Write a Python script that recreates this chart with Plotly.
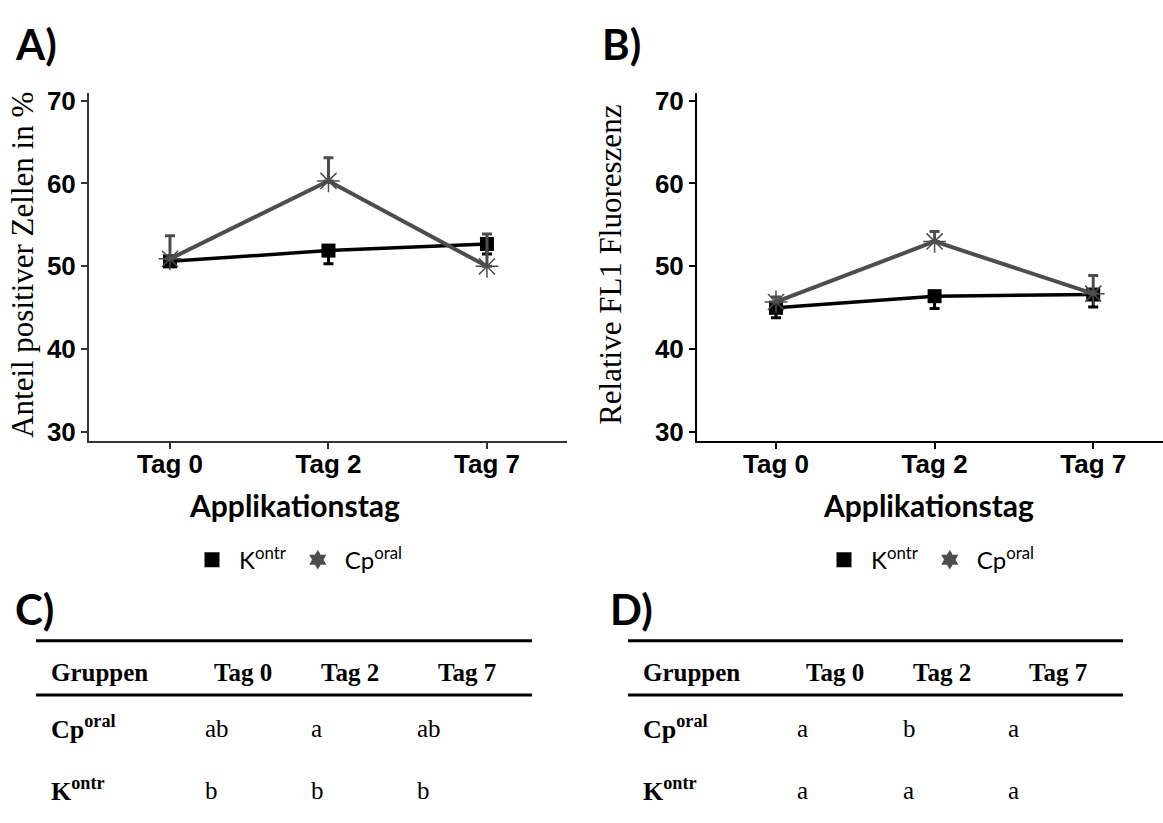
import plotly.graph_objects as go

# ---------------- data ----------------
days = ["Tag 0", "Tag 2", "Tag 7"]

a_kontr = [50.6, 51.9, 52.7]
a_kontr_err = [0.5, 1.6, 1.2]      # drawn downward
a_cp = [50.9, 60.3, 50.0]
a_cp_err = [2.8, 2.8, 3.9]         # drawn upward

b_kontr = [45.0, 46.4, 46.6]
b_kontr_err = [1.2, 1.5, 1.5]
b_cp = [45.7, 53.0, 46.7]
b_cp_err = [0.6, 1.2, 2.2]

yticks = [30, 40, 50, 60, 70]

table_header = ["Gruppen", "Tag 0", "Tag 2", "Tag 7"]
row_labels = ["<b>Cp<sup>oral</sup></b>", "<b>K<sup>ontr</sup></b>"]
c_cp = ["ab", "a", "ab"]
c_kontr = ["b", "b", "b"]
d_cp = ["a", "b", "a"]
d_kontr = ["a", "a", "a"]

W, H = 1163, 823
BLACK = "#000000"
GREY = "#4d4d4d"

def px(x):
    return x / W

def py(y):
    return 1 - y / H

fig = go.Figure()

def add_panel(xa, ya, kontr, kerr, cp, cerr, legend):
    fig.add_trace(go.Scatter(
        x=days, y=kontr, xaxis=xa, yaxis=ya, mode="lines+markers",
        line=dict(color=BLACK, width=3.5),
        marker=dict(symbol="square", size=14, color=BLACK),
        error_y=dict(type="data", symmetric=False, array=[0] * len(kerr), arrayminus=kerr,
                     color=BLACK, thickness=3, width=5),
        showlegend=False, cliponaxis=False))
    fig.add_trace(go.Scatter(
        x=days, y=cp, xaxis=xa, yaxis=ya, mode="lines+markers",
        line=dict(color=GREY, width=4),
        marker=dict(symbol="asterisk", size=19, color=GREY, line=dict(color=GREY, width=1.5)),
        error_y=dict(type="data", symmetric=False, array=cerr, arrayminus=[0] * len(cerr),
                     color=GREY, thickness=3, width=5),
        showlegend=False, cliponaxis=False))
    # legend entries
    fig.add_trace(go.Scatter(x=[None], y=[None], xaxis=xa, yaxis=ya, mode="markers",
                             marker=dict(symbol="square", size=15, color=BLACK),
                             name="K<sup>ontr</sup>", legend=legend))
    fig.add_trace(go.Scatter(x=[None], y=[None], xaxis=xa, yaxis=ya, mode="markers",
                             marker=dict(symbol="hexagram", size=15, color=GREY),
                             name="Cp<sup>oral</sup>", legend=legend))

add_panel("x", "y", a_kontr, a_kontr_err, a_cp, a_cp_err, "legend")
add_panel("x2", "y2", b_kontr, b_kontr_err, b_cp, b_cp_err, "legend2")

tickfont = dict(family="Liberation Sans", size=26, color=BLACK)

def xaxis(domain, rng, col, anchor):
    return dict(domain=domain, range=rng, type="category", showgrid=False, zeroline=False,
                anchor=anchor, showline=True, linecolor=col, linewidth=2, ticks="outside",
                ticklen=6, tickwidth=1.5, tickcolor=col, tickfont=tickfont,
                ticklabelstandoff=-7,
                tickvals=days, ticktext=["<b>%s</b>" % d for d in days],
                categoryorder="array", categoryarray=days, fixedrange=True)

def yaxis(domain, rng, col, anchor):
    return dict(domain=domain, range=rng, showgrid=False, zeroline=False, anchor=anchor,
                showline=True, linecolor=col, linewidth=2, ticks="outside", ticklen=6,
                tickwidth=1.5, tickcolor=col, tickvals=yticks,
                ticktext=["<b>%d</b>" % v for v in yticks], tickfont=tickfont,
                fixedrange=True)

ydom = [py(441), py(87)]
yr = [28.93, 70.95]

legfont = dict(family="Lato", size=24, color=BLACK)
fig.update_layout(
    width=W, height=H, margin=dict(l=0, r=0, t=0, b=0),
    paper_bgcolor="white", plot_bgcolor="white",
    xaxis=xaxis([px(89), px(567)], [-0.511, 2.505], "#333333", "y"),
    yaxis=yaxis(ydom, yr, "#333333", "x"),
    xaxis2=xaxis([px(697), 1.0], [-0.498, 2.44], BLACK, "y2"),
    yaxis2=yaxis(ydom, yr, BLACK, "x2"),
    legend=dict(orientation="h", x=px(185), y=py(562), xanchor="left", yanchor="middle",
                font=legfont, itemwidth=44, bgcolor="rgba(0,0,0,0)"),
    legend2=dict(orientation="h", x=px(817), y=py(562), xanchor="left", yanchor="middle",
                 font=legfont, itemwidth=44, bgcolor="rgba(0,0,0,0)"),
)

ann = []
def text(x, y, s, size, family, xanchor="center", angle=0):
    ann.append(dict(x=px(x), y=py(y), xref="paper", yref="paper", text=s, showarrow=False,
                    xanchor=xanchor, yanchor="middle", textangle=angle,
                    font=dict(family=family, size=size, color=BLACK)))

# panel labels
text(13, 38, "<b>A)</b>", 42, "Lato", "left")
text(600, 38, "<b>B)</b>", 42, "Lato", "left")
text(13, 612, "<b>C)</b>", 42, "Lato", "left")
text(608, 612, "<b>D)</b>", 42, "Lato", "left")

# axis titles
text(294, 506, "<b>Applikationstag</b>", 30, "Lato")
text(928, 506, "<b>Applikationstag</b>", 30, "Lato")
text(23, 262, "Anteil positiver Zellen in %", 31, "Liberation Serif", "center", -90)
text(611, 262, "Relative FL1 Fluoreszenz", 31, "Liberation Serif", "center", -90)

# tables
shapes = []
def table(x0, x1, header_x, value_x, cp_vals, k_vals):
    for yy in (644, 699):
        shapes.append(dict(type="line", xref="paper", yref="paper", x0=px(x0), x1=px(x1),
                           y0=py(yy), y1=py(yy), line=dict(color=BLACK, width=3)))
    text(x0 + 13, 676, "<b>" + table_header[0] + "</b>", 25, "Liberation Serif", "left")
    for hx, h in zip(header_x, table_header[1:]):
        text(hx, 676, "<b>" + h + "</b>", 25, "Liberation Serif", "center")
    for yy, lab, vals in ((732, row_labels[0], cp_vals), (795, row_labels[1], k_vals)):
        text(x0 + 13, yy, lab, 26, "Liberation Serif", "left")
        for vx, v in zip(value_x, vals):
            text(vx, yy + 1, v, 25, "Liberation Serif", "left")

table(36, 532, [243, 350, 467], [203, 309, 415], c_cp, c_kontr)
table(628, 1123, [835, 942, 1058], [795, 901, 1006], d_cp, d_kontr)

fig.update_layout(annotations=ann, shapes=shapes)
fig.write_html("out.html")
